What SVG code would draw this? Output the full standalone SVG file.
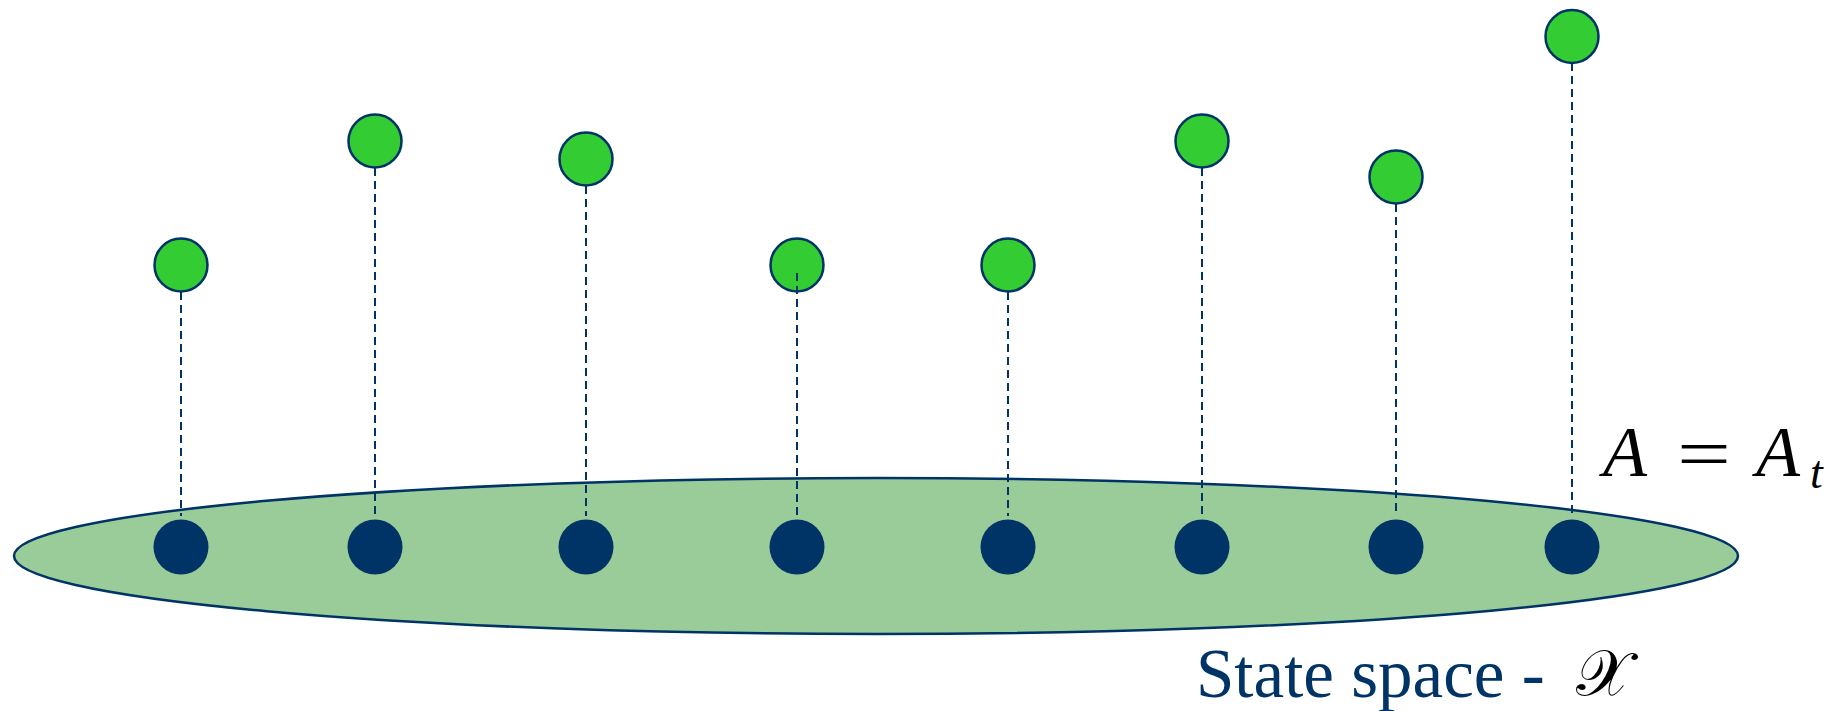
<svg xmlns="http://www.w3.org/2000/svg" width="1844" height="711" viewBox="0 0 1844 711">
  <style>
    .space { fill: #99CC99; stroke: #003366; stroke-width: 2.5; }
    .state { fill: #003366; }
    .value { fill: #33CC33; stroke: #003366; stroke-width: 2.5; }
    .drop { stroke: #003366; stroke-width: 2; stroke-dasharray: 8 5; fill: none; }
    .math { font-family: "Liberation Serif", "DejaVu Serif", serif; fill: #000; }
    .label { font-family: "Liberation Serif", "Times New Roman", serif; fill: #003366; }
  </style>
  <rect width="1844" height="711" fill="#ffffff"/>

  <!-- state space -->
  <g id="state-space">
    <ellipse class="space" cx="876" cy="556" rx="862" ry="78"/>
  </g>

  <!-- vertical dashed projections from each value down to its state -->
  <g id="connectors">
    <line class="drop" x1="181" y1="292" x2="181" y2="516"/>
    <line class="drop" x1="375" y1="168" x2="375" y2="516"/>
    <line class="drop" x1="586" y1="186" x2="586" y2="516"/>
    <line class="drop" x1="797" y1="273" x2="797" y2="516"/>
    <line class="drop" x1="1008" y1="292" x2="1008" y2="516"/>
    <line class="drop" x1="1202" y1="168" x2="1202" y2="516"/>
    <line class="drop" x1="1396" y1="204" x2="1396" y2="516"/>
    <line class="drop" x1="1572" y1="63" x2="1572" y2="516"/>
  </g>

  <!-- states -->
  <g id="s1"><circle class="state" cx="181" cy="547" r="27.5"/></g>
  <g id="s2"><circle class="state" cx="375" cy="547" r="27.5"/></g>
  <g id="s3"><circle class="state" cx="586" cy="547" r="27.5"/></g>
  <g id="s4"><circle class="state" cx="797" cy="547" r="27.5"/></g>
  <g id="s5"><circle class="state" cx="1008" cy="547" r="27.5"/></g>
  <g id="s6"><circle class="state" cx="1202" cy="547" r="27.5"/></g>
  <g id="s7"><circle class="state" cx="1396" cy="547" r="27.5"/></g>
  <g id="s8"><circle class="state" cx="1572" cy="547" r="27.5"/></g>

  <!-- values above the states -->
  <g id="v1"><circle class="value" cx="181" cy="265" r="26.5"/></g>
  <g id="v2"><circle class="value" cx="375" cy="141" r="26.5"/></g>
  <g id="v3"><circle class="value" cx="586" cy="159" r="26.5"/></g>
  <g id="v4"><circle class="value" cx="797" cy="265" r="26.5"/>
    <line class="drop" x1="797" y1="273" x2="797" y2="292"/></g>
  <g id="v5"><circle class="value" cx="1008" cy="265" r="26.5"/></g>
  <g id="v6"><circle class="value" cx="1202" cy="141" r="26.5"/></g>
  <g id="v7"><circle class="value" cx="1396" cy="177" r="26.5"/></g>
  <g id="v8"><circle class="value" cx="1572" cy="36.5" r="26.5"/></g>

  <!-- labels -->
  <g id="label-a">
    <text class="math" x="1603" y="476" font-size="72" font-style="italic">A</text>
    <text class="math" x="0" y="0" font-size="72" text-anchor="middle" transform="translate(1704,478) scale(1.33,1)">=</text>
    <text class="math" x="1756" y="476" font-size="72" font-style="italic">A</text>
    <text class="math" x="1810" y="488" font-size="46" font-style="italic">t</text>
  </g>
  <g id="label-space">
    <text class="label" x="1196" y="697" font-size="69">State space -</text>
    <text class="math" x="1576" y="695" font-size="64" font-family="DejaVu Sans, DejaVu Serif, serif">𝒳</text>
  </g>
</svg>
